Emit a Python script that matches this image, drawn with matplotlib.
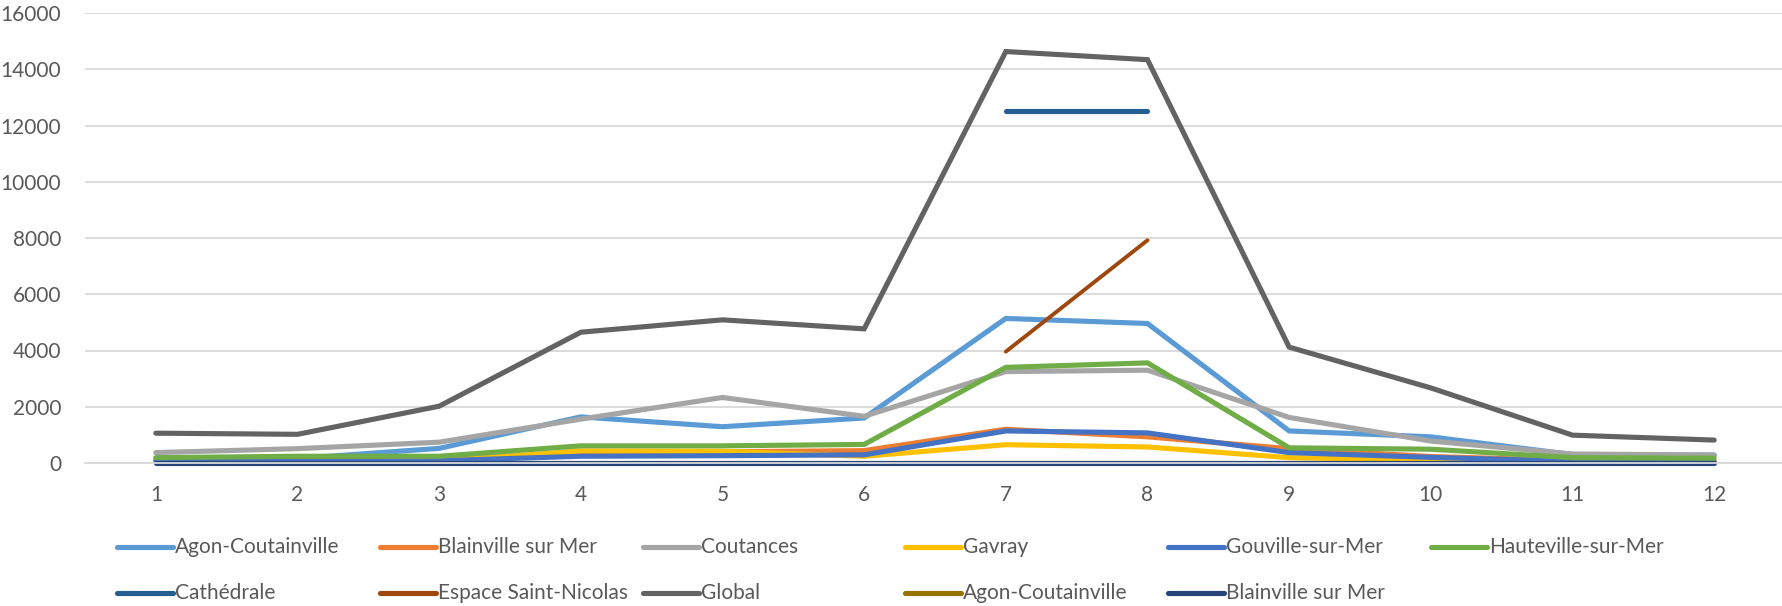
import matplotlib
matplotlib.use("Agg")
import matplotlib.pyplot as plt
from matplotlib.lines import Line2D

# mois 1..12
months = list(range(1, 13))

agon = [150, 160, 520, 1640, 1290, 1600, 5140, 4960, 1140, 930, 300, 280]
blainville = [90, 110, 120, 350, 400, 440, 1200, 930, 510, 230, 90, 70]
coutances = [370, 510, 740, 1560, 2330, 1660, 3250, 3300, 1620, 780, 320, 285]
gavray = [40, 50, 60, 430, 420, 240, 650, 570, 190, 100, 50, 30]
gouville = [50, 60, 80, 240, 260, 290, 1140, 1070, 370, 200, 60, 40]
hauteville = [190, 240, 240, 610, 610, 660, 3400, 3560, 540, 490, 190, 170]
cathedrale = [None] * 6 + [12500, 12500] + [None] * 4
espace = [None] * 6 + [3960, 7920] + [None] * 4
global_ = [1060, 1020, 2020, 4650, 5090, 4770, 14630, 14340, 4120, 2670, 990, 815]
agon2 = [50] * 12
blainville2 = [0] * 12

names = ["Agon-Coutainville", "Blainville sur Mer", "Coutances", "Gavray",
         "Gouville-sur-Mer", "Hauteville-sur-Mer", "Cathédrale",
         "Espace Saint-Nicolas", "Global", "Agon-Coutainville", "Blainville sur Mer"]
series = [agon, blainville, coutances, gavray, gouville, hauteville,
          cathedrale, espace, global_, agon2, blainville2]
colors = ["#5B9BD5", "#ED7D31", "#A5A5A5", "#FFC000", "#4472C4", "#70AD47",
          "#255E91", "#9E480E", "#636363", "#997300", "#264478"]
widths = [3.7, 3.7, 3.7, 3.7, 3.7, 3.7, 3.7, 2.8, 3.7, 2.2, 3.7]

plt.rcParams['font.family'] = ['Lato', 'DejaVu Sans']

W, H = 1783, 606
fig = plt.figure(figsize=(W / 100, H / 100), dpi=100)
ax = fig.add_axes([85 / W, (H - 463) / H, 1700 / W, (463 - 13) / H])

for vals, c, lw in zip(series, colors, widths):
    y = [float('nan') if v is None else v for v in vals]
    ax.plot(months, y, color=c, lw=lw, solid_capstyle='round',
            solid_joinstyle='miter', clip_on=False)

ax.set_xlim(0.5, 12.5)
ax.set_ylim(0, 16000)
ax.set_yticks(range(0, 16001, 2000))
ax.set_xticks(months)
ax.grid(axis='y', color='#D9D9D9', lw=1.3)
ax.set_axisbelow(True)
for s in ['top', 'right', 'left']:
    ax.spines[s].set_visible(False)
ax.spines['bottom'].set_color('#D9D9D9')
ax.spines['bottom'].set_linewidth(1.3)
ax.tick_params(length=0, labelsize=15, colors='#595959')
ax.tick_params(axis='y', pad=17)
ax.tick_params(axis='x', pad=16)

# légende en grille régulière, comme Excel
col_x = 117
col_step = 262.8
row_y = [547, 593]
for i, (name, c) in enumerate(zip(names, colors)):
    row, col = divmod(i, 6)
    x0 = col_x + col * col_step
    yy = (H - row_y[row]) / H
    fig.add_artist(Line2D([x0 / W, (x0 + 56) / W], [yy, yy], color=c, lw=3.7,
                          solid_capstyle='round', transform=fig.transFigure))
    fig.text((x0 + 58) / W, yy, name, fontsize=15, color='#595959',
             va='center', ha='left')

fig.savefig("out.png", dpi=100)
